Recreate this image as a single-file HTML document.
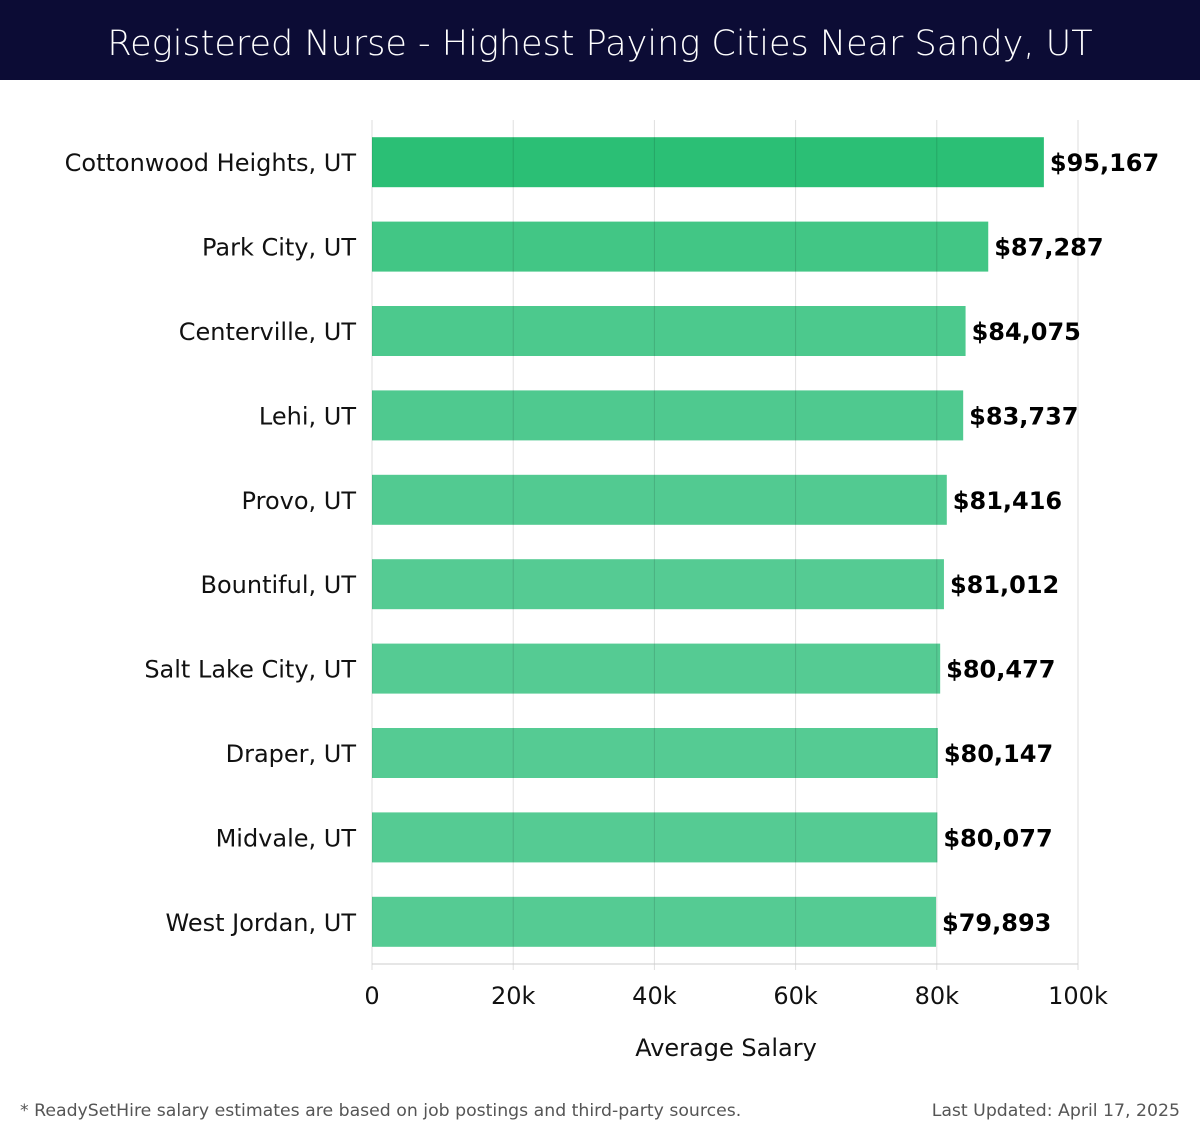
<!DOCTYPE html>
<html><head><meta charset="utf-8"><style>
body{margin:0;width:1200px;height:1140px;background:#fff;font-family:"Liberation Sans","DejaVu Sans",sans-serif;overflow:hidden}
#hdr{position:absolute;left:0;top:0;width:1200px;height:80px;background:#0c0c35;color:#fff;font-size:35px;text-align:center;line-height:88px;font-family:"DejaVu Sans","Liberation Sans",sans-serif;font-weight:300}
.foot{position:absolute;top:1101px;font-size:17.3px;color:#555;font-family:"DejaVu Sans",sans-serif}
</style></head><body>
<div id="hdr">Registered Nurse - Highest Paying Cities Near Sandy, UT</div>
<svg id="chart" width="1200" height="1140" style="position:absolute;left:0;top:0"></svg>
<div class="foot" style="left:20px">* ReadySetHire salary estimates are based on job postings and third-party sources.</div>
<div class="foot" style="right:20px">Last Updated: April 17, 2025</div>
<script>
const categories=["Cottonwood Heights, UT","Park City, UT","Centerville, UT","Lehi, UT","Provo, UT","Bountiful, UT","Salt Lake City, UT","Draper, UT","Midvale, UT","West Jordan, UT"];
const values=[95167,87287,84075,83737,81416,81012,80477,80147,80077,79893];
const ticks=[0,20000,40000,60000,80000,100000];
const tickLabels=["0","20k","40k","60k","80k","100k"];
const colors=["#2bbf75","#42c685","#4cc98d","#4fc98f","#52ca91","#55cb93","#55cb93","#55cb93","#55cb93","#55cb93"];
const NS="http://www.w3.org/2000/svg";
const svgEl=document.getElementById('chart');
const plotX0=372,plotX1=1078,plotTop=120,plotBottom=964;
const xs=v=>plotX0+(v/100000)*(plotX1-plotX0);
const step=(plotBottom-plotTop)/categories.length;
const yc=i=>plotTop+step*(i+0.5);
function mk(t,a){const e=document.createElementNS(NS,t);for(const k in a)e.setAttribute(k,a[k]);svgEl.appendChild(e);return e;}
categories.forEach((c,i)=>{
 const r=mk('rect',{x:plotX0,y:yc(i)-25,width:xs(values[i])-plotX0,height:50,fill:colors[i]});
 
 
 const l=mk('text',{x:356,y:yc(i)+9,'text-anchor':'end','font-size':24,fill:'#111','font-family':'DejaVu Sans, sans-serif'});
 l.textContent=c;
 
 
 const v=mk('text',{x:xs(values[i])+6,y:yc(i)+9,'font-size':24,'font-weight':'bold',fill:'#000','font-family':'DejaVu Sans, sans-serif'});
 v.textContent='$'+values[i].toLocaleString('en-US');
 
 
});
ticks.forEach((t,i)=>{
 const g=mk('line',{x1:xs(t),x2:xs(t),y1:plotTop,y2:plotBottom+6,stroke:'rgba(0,0,0,0.13)','stroke-width':1});
 
 
 const tl=mk('text',{x:xs(t),y:1004,'text-anchor':'middle','font-size':24,fill:'#111','font-family':'DejaVu Sans, sans-serif'});
 tl.textContent=tickLabels[i];
 
 
});
const ax=mk('line',{x1:plotX0,x2:plotX1,y1:plotBottom,y2:plotBottom,stroke:'#ccc','stroke-width':1});


const at=mk('text',{x:726,y:1056,'text-anchor':'middle','font-size':24,fill:'#111','font-family':'DejaVu Sans, sans-serif'});
at.textContent='Average Salary';


</script>
</body></html>
